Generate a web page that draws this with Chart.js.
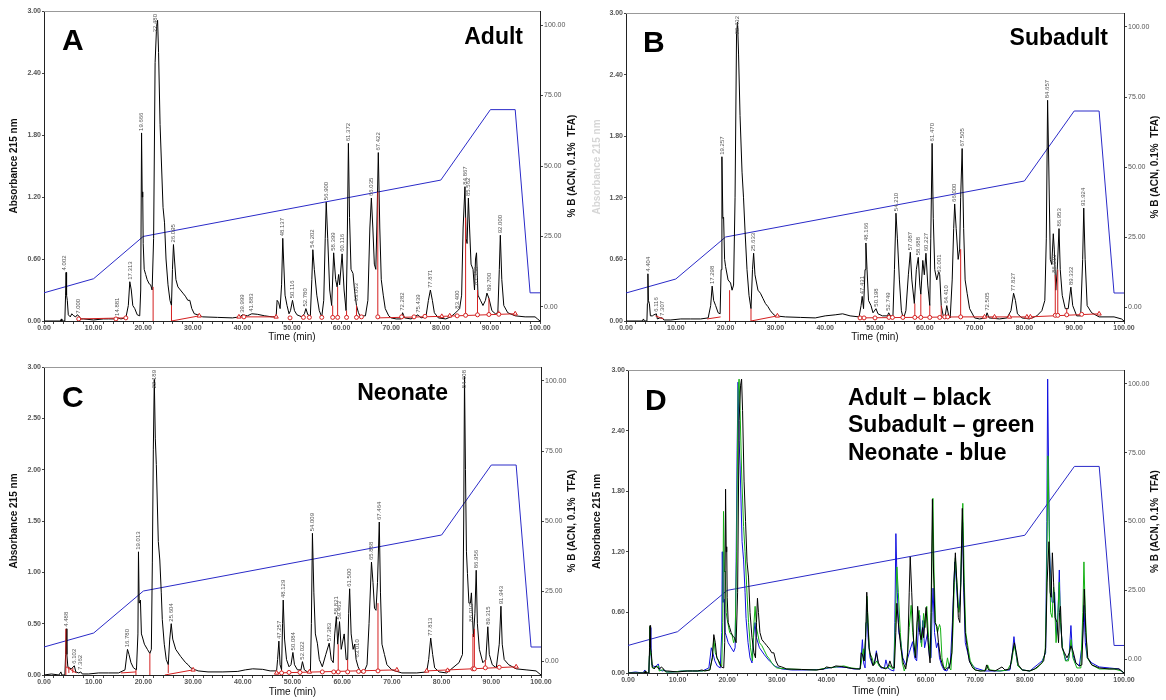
<!DOCTYPE html>
<html><head><meta charset="utf-8">
<script src="https://cdn.jsdelivr.net/npm/chart.js@4.4.1/dist/chart.umd.min.js"></script>
<style>
html,body{margin:0;padding:0;background:#fff;width:1166px;height:700px;overflow:hidden;}
canvas{position:absolute;}
</style></head><body>
<canvas id="cA" width="583" height="350" style="left:0;top:0"></canvas>
<canvas id="cB" width="583" height="350" style="left:583px;top:0"></canvas>
<canvas id="cC" width="583" height="350" style="left:0;top:350px"></canvas>
<canvas id="cD" width="583" height="350" style="left:583px;top:350px"></canvas>
<script>
// ---------- tick labels ----------
const timeTicks = [0,10,20,30,40,50,60,70,80,90,100];
const absTicks06 = [0,0.6,1.2,1.8,2.4,3.0];
const absTicks05 = [0,0.5,1.0,1.5,2.0,2.5,3.0];
const pctTicks = [0,25,50,75,100];

// ---------- solvent gradient (% B) ----------
const gradT = [0,10,20,80,90,95,98,100];
const gradB = [5,10,25,45,70,70,5,5];

// ---------- Adult trace ----------
const adultT = [0,2,3.3,3.5,3.6,4.2,4.35,4.45,4.55,4.7,4.9,5.3,5.6,6.0,6.4,6.7,7.0,7.4,8,10,12,13,14,14.9,15.5,16.5,17.0,17.3,17.6,17.9,18.3,18.8,19.3,19.5,19.67,19.8,19.9,20.0,20.2,20.5,20.8,21.2,21.5,21.8,22.1,22.4,22.7,22.9,23.1,23.4,23.7,24.0,24.3,24.6,25.0,25.4,25.7,25.9,26.1,26.3,26.6,27.0,27.5,28.0,28.5,29.0,29.4,29.8,30.3,31,32,35,38,39.5,40.0,41,41.9,43,44.5,46,46.8,47.0,47.3,47.6,47.9,48.14,48.3,48.6,49.0,49.4,49.7,50.1,50.5,51,52,52.5,52.8,53.2,53.7,54.0,54.2,54.5,55.0,55.5,56.0,56.4,56.7,56.9,57.2,57.6,58.0,58.4,58.8,59.1,59.4,59.6,60.1,60.5,60.9,61.1,61.37,61.6,61.9,62.3,62.6,63.0,63.4,63.9,64.4,64.8,65.3,65.7,66.0,66.3,66.6,66.9,67.1,67.4,67.7,68.0,68.4,68.8,69.5,70,71,72,72.3,72.7,74,75.4,76,77,77.5,77.9,78.3,78.7,79.5,81,82,83,83.4,83.8,84.2,84.5,84.87,85.1,85.3,85.56,85.8,86.1,86.5,86.8,87.0,87.2,87.5,88.0,88.5,89.0,89.3,89.7,90.3,91.0,91.5,91.8,92.0,92.3,92.7,93.5,95,97,99,99.5,100];
const adultA = [0,0,0,0.02,0,0,0.25,0.47,0.25,0.2,0.06,0.04,0.07,0.05,0.04,0.06,0.05,0.02,0.02,0.01,0.02,0.02,0.02,0.03,0.02,0.03,0.15,0.38,0.3,0.15,0.12,0.06,0.05,0.3,1.82,1.2,1.25,0.75,0.5,0.45,0.4,0.36,0.35,0.3,0.8,2.5,2.85,2.91,2.6,1.9,1.5,1.1,0.95,0.6,0.35,0.2,0.15,0.5,0.74,0.6,0.4,0.33,0.3,0.27,0.24,0.2,0.2,0.12,0.07,0.06,0.04,0.035,0.03,0.04,0.06,0.05,0.07,0.065,0.05,0.04,0.04,0.2,0.18,0.12,0.35,0.8,0.6,0.25,0.15,0.07,0.1,0.2,0.1,0.06,0.04,0.07,0.12,0.06,0.05,0.4,0.69,0.5,0.25,0.1,0.04,0.2,0.8,1.15,0.8,0.3,0.15,0.66,0.4,0.33,0.45,0.35,0.65,0.3,0.1,0.6,1.72,1.0,0.5,0.46,0.3,0.15,0.08,0.03,0.05,0.05,0.2,0.9,1.19,0.9,0.55,0.5,0.9,1.63,0.9,0.4,0.25,0.12,0.05,0.03,0.02,0.02,0.08,0.03,0.02,0.06,0.03,0.04,0.2,0.3,0.2,0.08,0.03,0.02,0.04,0.08,0.1,0.12,0.25,0.9,1.3,0.8,0.75,1.19,0.9,0.55,0.5,0.3,0.6,0.66,0.25,0.2,0.15,0.2,0.27,0.22,0.1,0.07,0.08,0.5,0.83,0.4,0.15,0.08,0.05,0.04,0.04,0.02,0];
const adultPeakT = [4.002,7.000,14.881,17.313,19.666,22.480,26.095,39.999,41.883,48.137,50.116,52.780,54.202,56.900,58.399,60.116,61.372,63.063,66.035,67.422,72.282,75.439,77.871,83.400,84.867,85.562,87.150,89.700,92.000];
const adultPeakH = [0.47,0.05,0.03,0.38,1.82,2.91,0.74,0.06,0.07,0.8,0.2,0.12,0.69,1.15,0.66,0.65,1.72,0.17,1.19,1.63,0.08,0.06,0.3,0.1,1.3,1.19,0.33,0.27,0.83];
const adultBaseT = [7.0,16.5,16.5,25.7,31.3,31.3,39.3,46.8,46.8,67.3,80.2,95.0];
const adultBaseY = [0.02,0.03,null,0.0,0.05,null,0.04,0.04,null,0.03,0.045,0.07];
const adultDropT = [22.0,25.7,58.2,59.2,61.0,63.0,67.3,85.0,87.4,89.7,91.7];
const adultDropH = [0.33,0.15,0.15,0.33,0.1,0.15,1.25,1.0,0.3,0.22,0.1];
const adultDropB = [0.0,0.0,0.035,0.035,0.035,0.035,0.04,0.055,0.06,0.063,0.065];
const adultMarkT = [7.0,14.5,16.5,40.3,49.6,52.3,53.5,56.0,58.2,59.2,61.0,63.0,64.0,67.3,72.1,74.6,76.8,83.3,85.0,87.4,89.7,91.7];
const adultMarkY = [0.02,0.02,0.03,0.04,0.03,0.035,0.035,0.035,0.035,0.035,0.035,0.035,0.04,0.04,0.04,0.04,0.045,0.05,0.055,0.06,0.063,0.065];
const adultTriT = [31.3,39.3,46.8,80.2,81.8,95.0];
const adultTriY = [0.05,0.04,0.04,0.045,0.05,0.07];

// ---------- Subadult trace ----------
const subT = [0,3.3,3.5,3.7,4.2,4.3,4.4,4.5,4.7,4.9,5.3,5.6,6.1,6.3,6.8,7.3,7.6,9,11,13,15,16.5,17.0,17.3,17.6,18.0,18.5,18.9,19.1,19.26,19.45,19.6,19.8,20.0,20.5,21.0,21.3,21.6,21.9,22.2,22.4,22.6,22.9,23.3,23.6,23.9,24.3,24.7,25.1,25.4,25.63,25.9,26.5,27.0,27.5,28.0,28.5,29.0,29.5,30,32,35,38,40,42,43.5,45,46.8,47.2,47.43,47.7,48.0,48.17,48.4,48.7,49.2,49.6,50.2,50.6,51.5,52.5,52.75,53.1,53.6,53.9,54.21,54.5,54.9,55.3,55.7,56.2,56.7,57.09,57.4,57.9,58.3,58.69,59.0,59.2,59.6,59.9,60.23,60.6,61.0,61.2,61.47,61.7,62.0,62.4,62.8,63.0,63.3,63.7,64.1,64.41,64.8,65.1,65.5,65.8,66.0,66.3,66.7,67.0,67.2,67.5,67.8,68.1,68.5,69.0,70,71,72.2,72.5,72.9,75,76.5,77.3,77.83,78.2,78.6,79.5,81,82.5,83.5,84.1,84.4,84.66,84.9,85.2,85.5,85.8,86.0,86.3,86.6,86.95,87.2,87.6,88.2,88.8,89.33,89.7,90.5,91.3,91.7,91.92,92.2,92.6,93.5,95,98,99.5,100];
const subA = [0,0,0.02,0,0,0.17,0.46,0.2,0.17,0.05,0.05,0.06,0.07,0.02,0.03,0.03,0.01,0.01,0.02,0.02,0.02,0.03,0.15,0.34,0.2,0.15,0.08,0.07,0.5,1.6,1.0,1.01,0.6,0.53,0.4,0.37,0.3,0.35,1.2,2.8,2.91,2.6,2.0,1.45,1.2,0.88,0.5,0.25,0.12,0.5,0.66,0.45,0.3,0.27,0.22,0.17,0.14,0.1,0.07,0.05,0.04,0.035,0.03,0.05,0.06,0.07,0.05,0.04,0.15,0.24,0.12,0.5,0.76,0.5,0.2,0.15,0.08,0.12,0.07,0.05,0.05,0.08,0.05,0.04,0.5,1.05,0.8,0.4,0.1,0.02,0.1,0.45,0.67,0.4,0.17,0.5,0.62,0.35,0.26,0.59,0.45,0.66,0.35,0.15,0.8,1.73,1.0,0.5,0.4,0.48,0.45,0.15,0.05,0.05,0.15,0.05,0.03,0.4,0.9,1.14,0.9,0.6,0.7,1.2,1.68,0.9,0.4,0.27,0.12,0.03,0.02,0.03,0.08,0.03,0.02,0.03,0.1,0.27,0.2,0.07,0.03,0.02,0.05,0.1,0.2,0.8,2.15,1.5,0.6,0.55,0.85,0.7,0.3,0.5,0.9,0.5,0.25,0.12,0.12,0.33,0.15,0.05,0.05,0.6,1.1,0.6,0.15,0.08,0.04,0.04,0.02,0];
const subPeakT = [4.404,6.116,7.307,17.298,19.257,22.432,25.633,47.431,48.166,50.198,52.749,54.210,57.087,58.688,60.227,61.470,63.001,64.410,66.000,67.505,72.505,77.827,84.657,86.010,86.953,89.332,91.924];
const subPeakH = [0.46,0.07,0.03,0.34,1.6,2.91,0.66,0.24,0.76,0.12,0.08,1.05,0.67,0.62,0.66,1.73,0.45,0.15,1.14,1.68,0.08,0.27,2.15,0.45,0.9,0.33,1.1];
const subBaseT = [5.9,7.5,7.5,16.3,19.0,19.0,25.1,30.4,30.4,46.8,67.2,81.0,95.0];
const subBaseY = [0.05,0.02,null,0.02,0.04,null,0.0,0.05,null,0.03,0.04,0.04,0.07];
const subDropT = [20.8,25.1,58.0,59.2,61.0,63.3,67.2,86.2,86.7,88.5,91.5];
const subDropH = [0.3,0.12,0.17,0.26,0.15,0.15,0.7,0.45,0.5,0.12,0.06];
const subDropB = [0.0,0.0,0.035,0.035,0.035,0.035,0.04,0.055,0.055,0.06,0.065];
const subMarkT = [47.0,47.8,50.0,52.8,53.5,55.6,58.0,59.2,61.0,63.0,64.0,64.6,67.2,86.2,86.7,88.5,91.5];
const subMarkY = [0.03,0.03,0.03,0.035,0.035,0.035,0.035,0.035,0.035,0.035,0.04,0.04,0.04,0.055,0.055,0.06,0.065];
const subTriT = [30.4,72.0,74.0,77.0,80.5,81.2,95.0];
const subTriY = [0.05,0.04,0.04,0.04,0.04,0.04,0.07];

// ---------- Neonate trace ----------
const neoT = [0,1.5,3.0,3.4,3.6,4.2,4.35,4.49,4.6,4.8,5.1,5.5,6.1,6.4,7.0,7.4,7.7,9,11,13,15,16.3,16.8,17.1,17.5,18.0,18.6,18.9,19.01,19.15,19.4,19.6,19.8,20.2,20.8,21.3,21.6,21.8,22.0,22.19,22.4,22.6,23.0,23.3,23.6,23.8,24.2,24.6,25.0,25.3,25.6,25.9,26.5,27.5,28.5,29.0,29.5,30.5,31,33,36,39,40.5,42,44,45.5,46.8,47.0,47.26,47.5,47.8,48.0,48.13,48.4,48.8,49.3,49.7,50.08,50.4,51,51.7,52.0,52.4,53,53.6,53.8,54.01,54.3,54.6,55.0,55.4,56.0,56.7,57.38,57.8,58.2,58.5,58.82,59.1,59.46,59.8,60.4,60.8,61.1,61.3,61.5,61.8,62.2,62.5,62.8,63.2,63.7,64.3,65.0,65.4,65.89,66.2,66.5,66.8,67.1,67.46,67.7,68.0,68.5,69.0,70,72,75,77.0,77.4,77.81,78.2,78.6,79.5,81,82.5,83.5,84.2,84.45,84.61,84.8,85.0,85.2,85.5,85.8,86.0,86.4,86.7,86.96,87.2,87.6,88.3,88.9,89.3,89.6,90.2,91.0,91.6,91.94,92.2,92.6,93.5,95,97,99,100];
const neoA = [0,0.01,0,0.03,0,0,0.2,0.45,0.2,0.08,0.07,0.06,0.09,0.03,0.02,0.03,0.01,0.01,0.02,0.02,0.02,0.05,0.25,0.2,0.12,0.07,0.05,0.4,1.2,0.7,0.73,0.4,0.37,0.3,0.25,0.21,0.25,1.1,2.2,2.88,2.3,2.05,1.3,1.12,0.8,0.54,0.3,0.15,0.1,0.35,0.5,0.35,0.25,0.18,0.12,0.1,0.07,0.05,0.04,0.03,0.03,0.035,0.05,0.06,0.055,0.04,0.04,0.15,0.33,0.1,0.05,0.5,0.73,0.35,0.15,0.08,0.1,0.22,0.1,0.05,0.05,0.13,0.05,0.03,0.02,0.5,1.38,0.8,0.4,0.31,0.15,0.08,0.2,0.31,0.15,0.12,0.4,0.57,0.3,0.52,0.25,0.4,0.15,0.15,0.6,0.84,0.4,0.25,0.3,0.15,0.08,0.03,0.02,0.1,0.5,1.1,0.9,0.65,0.63,0.9,1.49,0.8,0.3,0.2,0.1,0.05,0.02,0.02,0.03,0.15,0.36,0.2,0.07,0.03,0.02,0.08,0.12,0.2,1.5,2.91,2.0,1.2,0.99,0.7,0.7,0.8,0.37,0.6,1.02,0.5,0.25,0.12,0.15,0.47,0.2,0.1,0.07,0.3,0.67,0.3,0.15,0.1,0.06,0.05,0.04,0];
const neoPeakT = [4.488,6.102,7.362,16.780,19.013,22.189,25.604,47.257,48.129,50.084,52.022,54.009,57.383,58.821,59.463,61.500,63.010,65.888,67.464,77.813,84.608,86.010,86.956,89.315,91.943];
const neoPeakH = [0.45,0.09,0.03,0.25,1.2,2.88,0.5,0.33,0.73,0.22,0.13,1.38,0.31,0.57,0.52,0.84,0.15,1.1,1.49,0.36,2.91,0.5,1.02,0.47,0.67];
const neoBaseT = [4.4,6.5,6.5,15.5,18.5,18.5,24.3,30.0,30.0,46.8,71.0,71.0,77.0,95.0];
const neoBaseY = [0.08,0.02,null,0.02,0.03,null,0.0,0.05,null,0.02,0.05,null,0.04,0.08];
const neoDropT = [4.4,5.0,5.8,18.5,21.3,25.0,47.8,59.2,61.1,67.2,86.3,86.6,88.8,91.6];
const neoDropH = [0.45,0.08,0.07,0.05,0.21,0.1,0.05,0.3,0.15,0.7,0.4,0.45,0.15,0.08];
const neoDropB = [0.0,0.02,0.02,0.0,0.0,0.02,0.02,0.03,0.03,0.05,0.06,0.06,0.07,0.075];
const neoMarkT = [47.8,49.3,51.5,56.0,58.3,59.2,61.1,63.3,64.3,67.2,86.3,86.6,88.8,91.6];
const neoMarkY = [0.02,0.025,0.025,0.03,0.03,0.03,0.03,0.035,0.035,0.04,0.06,0.06,0.07,0.075];
const neoTriT = [30.0,46.8,53.4,71.0,77.0,81.2,95.0];
const neoTriY = [0.05,0.02,0.03,0.05,0.04,0.045,0.08];

// ---------- helpers ----------
const FONT = 'Arial, "Liberation Sans", sans-serif';
const RED = '#d42020';
const GRAD = '#2a2ac8';
function pts(ts, ys){ return ts.map((t,i)=>({x:t, y:ys[i]})); }
function dropPts(ts, hs, bs){ const o=[]; ts.forEach((t,i)=>{ o.push({x:t,y:bs[i]},{x:t,y:hs[i]},{x:t,y:null}); }); return o; }
const minorTime = []; for (let v=0; v<=100; v+=2) minorTime.push(v);

function lineDs(data, color, axis, order, width){
  return {data, borderColor:color, borderWidth:width||1, pointRadius:0, tension:0, fill:false, spanGaps:false, yAxisID:axis, order};
}

function makePanel(cfg){
  const W=583, H=350, a=cfg.area;
  const ds = [];
  ds.push(lineDs(pts(gradT,gradB), GRAD, 'y2', 9));
  cfg.traces.forEach((tr,i)=> ds.push(lineDs(pts(tr.t,tr.a), tr.color, 'y', 5+i)));
  if (cfg.red){
    const r=cfg.red;
    ds.push(lineDs(pts(r.baseT,r.baseY), RED, 'y', 1));
    ds.push(lineDs(dropPts(r.dropT,r.dropH,r.dropB), RED, 'y', 1));
    ds.push({type:'scatter', data:pts(r.markT,r.markY), pointStyle:'circle', pointRadius:2, borderColor:RED, backgroundColor:'#fff', borderWidth:1, showLine:false, yAxisID:'y', order:0});
    ds.push({type:'scatter', data:pts(r.triT,r.triY), pointStyle:'triangle', pointRadius:2.5, borderColor:RED, backgroundColor:'#fff', borderWidth:1, showLine:false, yAxisID:'y', order:0});
  }
  const tickFont = {family:FONT, size:7, weight:'bold'};
  const plugin = {
    id:'deco'+cfg.id,
    afterDatasetsDraw(chart){
      const ctx=chart.ctx, ca=chart.chartArea, xs=chart.scales.x, ys=chart.scales.y;
      ctx.save();
      // frame
      ctx.lineWidth=1;
      ctx.strokeStyle='#999';
      ctx.beginPath(); ctx.moveTo(ca.left, ca.top+0.5); ctx.lineTo(ca.right, ca.top+0.5); ctx.stroke();
      ctx.strokeStyle='#222';
      ctx.beginPath(); ctx.moveTo(ca.right+0.5, ca.top); ctx.lineTo(ca.right+0.5, ca.bottom); ctx.stroke();
      // peak labels
      if (cfg.peaks){
        ctx.font='6px '+FONT; ctx.fillStyle='#555'; ctx.textAlign='left'; ctx.textBaseline='middle';
        cfg.peaks.t.forEach((t,i)=>{
          const txt=t.toFixed(3), w=ctx.measureText(txt).width;
          const px=xs.getPixelForValue(t);
          let py=ys.getPixelForValue(cfg.peaks.h[i])-2;
          if (py-w < ca.top+3) py = ca.top+3+w;
          ctx.save(); ctx.translate(px,py); ctx.rotate(-Math.PI/2); ctx.fillText(txt,0,0); ctx.restore();
        });
      }
      // axis titles
      ctx.textAlign='center'; ctx.textBaseline='middle';
      const cy=(ca.top+ca.bottom)/2;
      ctx.font='bold 10px '+FONT; ctx.fillStyle=cfg.leftTitleColor||'#111';
      ctx.save(); ctx.translate(14,cy); ctx.rotate(-Math.PI/2); ctx.fillText('Absorbance 215 nm',0,0); ctx.restore();
      ctx.fillStyle='#111';
      ctx.save(); ctx.translate(572,cy); ctx.rotate(-Math.PI/2); ctx.fillText('% B (ACN, 0.1%  TFA)',0,0); ctx.restore();
      ctx.font='10px '+FONT;
      ctx.fillText('Time (min)', (ca.left+ca.right)/2, cfg.timeY);
      // panel letter & names
      ctx.fillStyle='#000'; ctx.textBaseline='alphabetic';
      ctx.textAlign='left'; ctx.font='bold 30px '+FONT;
      ctx.fillText(cfg.letter.text, cfg.letter.x, cfg.letter.y);
      ctx.font='bold 23px '+FONT;
      cfg.names.forEach(n=>{ ctx.textAlign=n.align; ctx.fillText(n.text,n.x,n.y); });
      ctx.restore();
    }
  };
  new Chart(document.getElementById(cfg.id), {
    type:'line',
    data:{datasets:ds},
    options:{
      responsive:false, animation:false, devicePixelRatio:1,
      layout:{padding:{top:a.top,left:0,right:0,bottom:0}},
      plugins:{legend:{display:false}, tooltip:{enabled:false}},
      scales:{
        x:{type:'linear', min:0, max:100,
          afterBuildTicks:s=>{ s.ticks=minorTime.map(v=>({value:v})); },
          afterFit:s=>{ s.height=H-a.bottom; },
          ticks:{autoSkip:false, maxRotation:0, minRotation:0, padding:0, font:tickFont, color:'#555',
            callback:v=> timeTicks.includes(v) ? v.toFixed(2) : ''},
          grid:{display:true, drawOnChartArea:false, drawTicks:true, tickLength:3, color:'#444'},
          border:{display:true, color:'#222'}},
        y:{type:'linear', position:'left', min:0, max:3,
          afterBuildTicks:s=>{ s.ticks=cfg.absTicks.map(v=>({value:v})); },
          afterFit:s=>{ s.width=a.left; },
          ticks:{padding:1, font:tickFont, color:'#555', callback:v=>v.toFixed(2)},
          grid:{display:true, drawOnChartArea:false, drawTicks:true, tickLength:2, color:'#444'},
          border:{display:true, color:'#222'}},
        y2:{type:'linear', position:'right', min:-5, max:105,
          afterBuildTicks:s=>{ s.ticks=pctTicks.map(v=>({value:v})); },
          afterFit:s=>{ s.width=W-a.right; },
          ticks:{padding:1, font:{family:FONT,size:7}, color:'#555', callback:v=>v.toFixed(2)},
          grid:{display:true, drawOnChartArea:false, drawTicks:true, tickLength:3, color:'#444'},
          border:{display:true, color:'#222'}}
      }
    },
    plugins:[plugin]
  });
}

makePanel({id:'cA', area:{left:44,right:540,top:11,bottom:321}, absTicks:absTicks06,
  traces:[{t:adultT,a:adultA,color:'#000'}],
  peaks:{t:adultPeakT,h:adultPeakH},
  red:{baseT:adultBaseT,baseY:adultBaseY,dropT:adultDropT,dropH:adultDropH,dropB:adultDropB,markT:adultMarkT,markY:adultMarkY,triT:adultTriT,triY:adultTriY},
  timeY:337, letter:{text:'A',x:62,y:50}, names:[{text:'Adult',x:523,y:44,align:'right'}]});

makePanel({id:'cB', area:{left:43,right:541,top:13,bottom:321}, absTicks:absTicks06,
  traces:[{t:subT,a:subA,color:'#000'}],
  peaks:{t:subPeakT,h:subPeakH}, leftTitleColor:'#d6d6d6',
  red:{baseT:subBaseT,baseY:subBaseY,dropT:subDropT,dropH:subDropH,dropB:subDropB,markT:subMarkT,markY:subMarkY,triT:subTriT,triY:subTriY},
  timeY:337, letter:{text:'B',x:60,y:52}, names:[{text:'Subadult',x:525,y:45,align:'right'}]});

makePanel({id:'cC', area:{left:44,right:541,top:17,bottom:325}, absTicks:absTicks05,
  traces:[{t:neoT,a:neoA,color:'#000'}],
  peaks:{t:neoPeakT,h:neoPeakH},
  red:{baseT:neoBaseT,baseY:neoBaseY,dropT:neoDropT,dropH:neoDropH,dropB:neoDropB,markT:neoMarkT,markY:neoMarkY,triT:neoTriT,triY:neoTriY},
  timeY:342, letter:{text:'C',x:62,y:57}, names:[{text:'Neonate',x:448,y:50,align:'right'}]});

makePanel({id:'cD', area:{left:45,right:541,top:20,bottom:323}, absTicks:absTicks06,
  traces:[{t:adultT,a:adultA,color:'#000'},{t:subT,a:subA,color:'#13b013'},{t:neoT,a:neoA,color:'#1010e0'}],
  timeY:341, letter:{text:'D',x:62,y:60},
  names:[{text:'Adult \u2013 black',x:265,y:55,align:'left'},{text:'Subadult \u2013 green',x:265,y:82,align:'left'},{text:'Neonate - blue',x:265,y:110,align:'left'}]});
</script>
</body></html>
